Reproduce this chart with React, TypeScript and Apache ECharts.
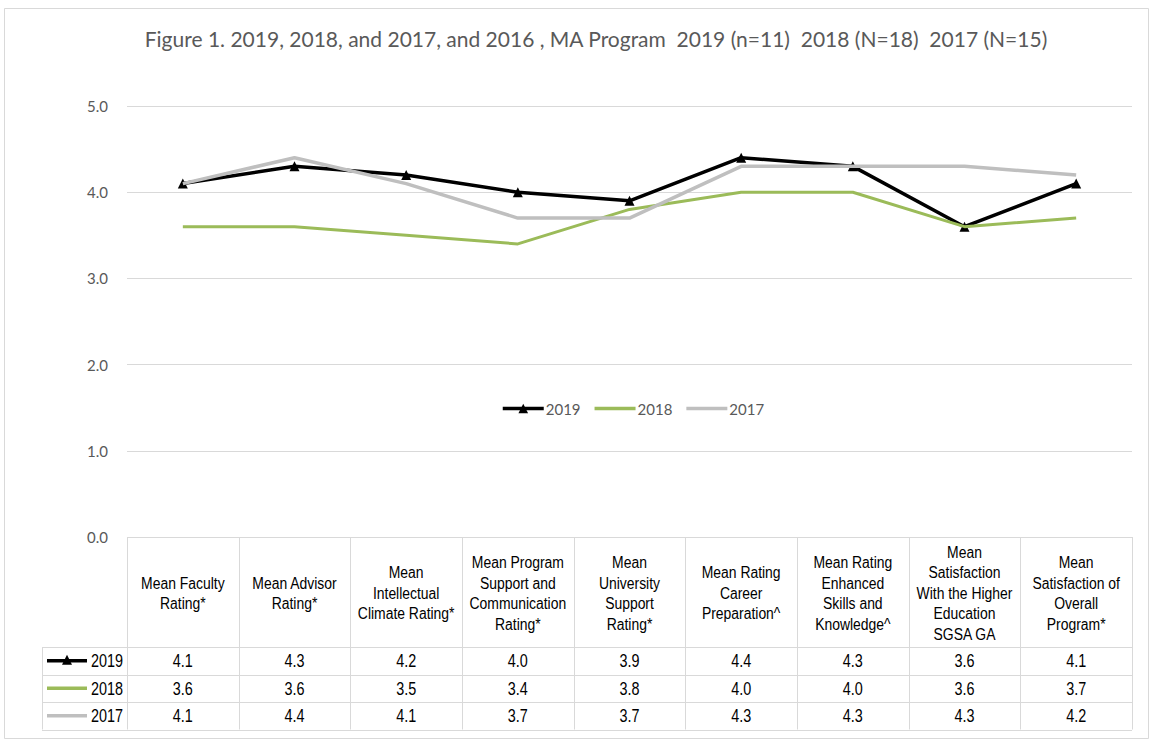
import React, { useEffect, useRef } from "react";
import * as echarts from "echarts";

const titleText = "Figure 1. 2019, 2018, and 2017, and 2016 , MA Program  2019 (n=11)  2018 (N=18)  2017 (N=15)";
const categories = [
  "Mean Faculty\nRating*",
  "Mean Advisor\nRating*",
  "Mean\nIntellectual\nClimate Rating*",
  "Mean Program\nSupport and\nCommunication\nRating*",
  "Mean\nUniversity\nSupport\nRating*",
  "Mean Rating\nCareer\nPreparation^",
  "Mean Rating\nEnhanced\nSkills and\nKnowledge^",
  "Mean\nSatisfaction\nWith the Higher\nEducation\nSGSA GA",
  "Mean\nSatisfaction of\nOverall\nProgram*",
];
const seriesNames = ["2019", "2018", "2017"];
const values2019 = [4.1, 4.3, 4.2, 4.0, 3.9, 4.4, 4.3, 3.6, 4.1];
const values2018 = [3.6, 3.6, 3.5, 3.4, 3.8, 4.0, 4.0, 3.6, 3.7];
const values2017 = [4.1, 4.4, 4.1, 3.7, 3.7, 4.3, 4.3, 4.3, 4.2];
const yTicks = [0, 1, 2, 3, 4, 5];

const colors = ["#000000", "#9bbb59", "#bfbfbf"];
const allValues = [values2019, values2018, values2017];

const W = 1153;
const H = 743;
const gridLeft = 127;
const gridRight = 1132;
const gridTop = 106;
const gridBottom = 537;
const tableLeft = 42;
const headerBottom = 647;
const rowH = 27.5;
const arial = "'Liberation Sans', Arial, sans-serif";
const titleFont = "Lato, 'Open Sans', sans-serif";
const gridColor = "#d9d9d9";
const lineIcon = "path://M0,0H40V3.5H0Z";

export default function App() {
  const ref = useRef<HTMLDivElement>(null);
  useEffect(() => {
    if (!ref.current) return;
    const chart = echarts.init(ref.current, undefined, { renderer: "svg" });
    const n = categories.length;
    const colW = (gridRight - gridLeft) / n;
    const cx = (i: number) => gridLeft + (i + 0.5) * colW;

    const graphics: any[] = [];
    graphics.push({
      type: "rect",
      shape: { x: 4.5, y: 8.5, width: 1144, height: 730 },
      style: { fill: "none", stroke: gridColor, lineWidth: 1 },
      silent: true,
    });
    graphics.push({
      type: "text",
      x: 596,
      y: 38,
      style: {
        text: titleText,
        font: `21px ${titleFont}`,
        fill: "#595959",
        align: "center",
        verticalAlign: "middle",
      },
    });
    const line = (x1: number, y1: number, x2: number, y2: number) => ({
      type: "line",
      shape: { x1, y1, x2, y2 },
      style: { stroke: gridColor, lineWidth: 1 },
      silent: true,
    });
    const tableBottom = headerBottom + rowH * 3;
    for (let r = 0; r <= 3; r++) {
      const y = Math.round(headerBottom + r * rowH) + 0.5;
      graphics.push(line(tableLeft, y, gridRight, y));
    }
    for (let c = 0; c <= n; c++) {
      const x = Math.round(gridLeft + c * colW) + 0.5;
      graphics.push(line(x, gridBottom, x, tableBottom));
    }
    graphics.push(line(tableLeft + 0.5, headerBottom, tableLeft + 0.5, tableBottom));
    categories.forEach((c, i) => {
      graphics.push({
        type: "text",
        x: cx(i),
        y: (gridBottom + headerBottom) / 2 + 1,
        scaleX: 0.87,
        style: {
          text: c,
          font: `16px ${arial}`,
          lineHeight: 20.5,
          fill: "#000",
          align: "center",
          verticalAlign: "middle",
        },
      });
    });
    allValues.forEach((vals, r) => {
      const yc = headerBottom + (r + 0.5) * rowH;
      graphics.push({
        type: "line",
        shape: { x1: 47, y1: yc, x2: 87, y2: yc },
        style: { stroke: colors[r], lineWidth: 3.5 },
      });
      if (r === 0) {
        graphics.push({
          type: "polygon",
          shape: { points: [[67, yc - 6], [72, yc + 4], [62, yc + 4]] },
          style: { fill: colors[r] },
        });
      }
      graphics.push({
        type: "text",
        x: 123,
        y: yc,
        scaleX: 0.8,
        style: {
          text: seriesNames[r],
          font: `18px ${arial}`,
          fill: "#000",
          align: "right",
          verticalAlign: "middle",
        },
      });
      vals.forEach((v, i) => {
        graphics.push({
          type: "text",
          x: cx(i),
          y: yc,
          scaleX: 0.8,
          style: {
            text: v.toFixed(1),
            font: `18px ${arial}`,
            fill: "#000",
            align: "center",
            verticalAlign: "middle",
          },
        });
      });
    });

    chart.setOption({
      animation: false,
      backgroundColor: "#ffffff",
      grid: {
        left: gridLeft,
        right: W - gridRight,
        top: gridTop,
        bottom: H - gridBottom,
        containLabel: false,
      },
      legend: {
        data: [
          { name: seriesNames[0] },
          { name: seriesNames[1], icon: lineIcon },
          { name: seriesNames[2], icon: lineIcon },
        ],
        left: 496,
        top: 396,
        itemWidth: 41,
        itemHeight: 12,
        itemGap: 14,
        symbolKeepAspect: true,
        lineStyle: { width: 3.5 },
        textStyle: { color: "#595959", fontSize: 15, fontFamily: titleFont, padding: [0, 0, 0, -3] },
      },
      xAxis: {
        type: "category",
        data: categories,
        boundaryGap: true,
        axisLine: { show: false },
        axisTick: { show: false },
        axisLabel: { show: false },
      },
      yAxis: {
        type: "value",
        min: yTicks[0],
        max: yTicks[yTicks.length - 1],
        interval: 1,
        axisLine: { show: false },
        axisTick: { show: false },
        axisLabel: {
          margin: 19,
          color: "#595959",
          fontSize: 15,
          fontFamily: titleFont,
          formatter: (v: number) => v.toFixed(1),
        },
        splitLine: { lineStyle: { color: gridColor, width: 1 } },
      },
      series: [
        {
          name: seriesNames[0],
          type: "line",
          data: values2019,
          symbol: "triangle",
          symbolSize: 10,
          itemStyle: { color: colors[0] },
          lineStyle: { color: colors[0], width: 3.5 },
          z: 2,
        },
        {
          name: seriesNames[1],
          type: "line",
          data: values2018,
          symbol: "none",
          itemStyle: { color: colors[1] },
          lineStyle: { color: colors[1], width: 3 },
          z: 3,
        },
        {
          name: seriesNames[2],
          type: "line",
          data: values2017,
          symbol: "none",
          itemStyle: { color: colors[2] },
          lineStyle: { color: colors[2], width: 3.5 },
          z: 4,
        },
      ],
      graphic: graphics,
    });
    return () => chart.dispose();
  }, []);
  return (
    <div
      ref={ref}
      style={{ position: "absolute", left: 0, top: 0, width: W, height: H }}
    />
  );
}
